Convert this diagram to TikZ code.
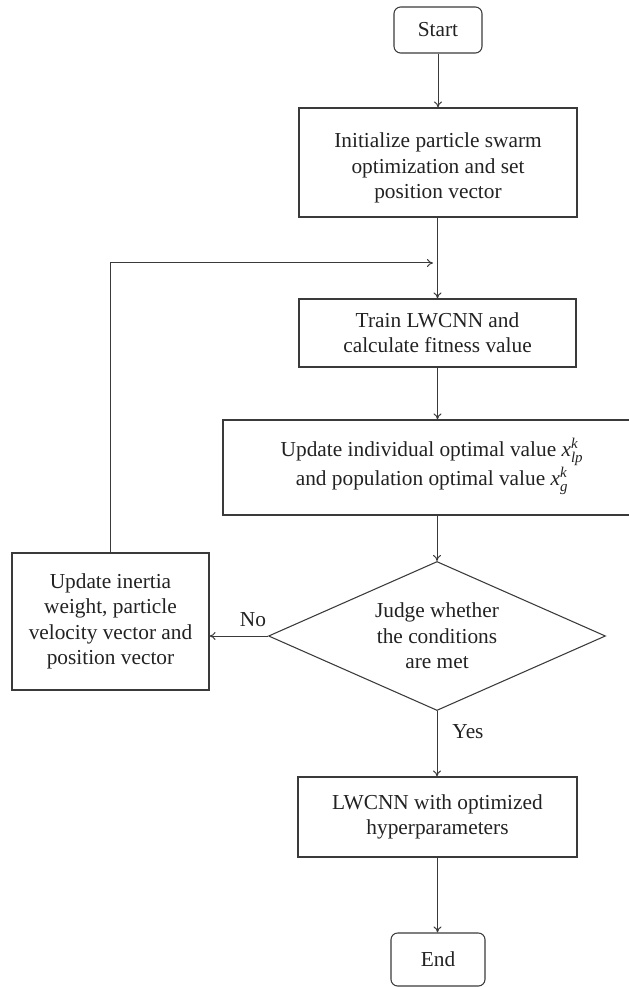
\documentclass[tikz,border=0pt]{standalone}
\usepackage{amsmath}
\usepackage{fontspec}
\setmainfont{Liberation Serif}
\usetikzlibrary{arrows.meta,shapes.geometric}
\definecolor{lineC}{HTML}{3A3A3A}
\definecolor{txtC}{HTML}{222222}
\newcommand{\vx}[2]{$\textit{x}^{\textit{#1}}_{\textit{#2}}$}
\tikzset{
  box/.style={draw=lineC, line width=0.8pt, rectangle, inner sep=0pt, align=center, text=txtC,
    font=\fontsize{16}{19}\selectfont},
  term/.style={box, rounded corners=5pt},
  decision/.style={box, shape=diamond, aspect=2.26},
  lbl/.style={text=txtC, font=\fontsize{16}{19}\selectfont, inner sep=0pt},
  conn/.style={draw=lineC, line width=0.75pt, -{To[length=4.5pt,width=6pt]}},
  plain/.style={draw=lineC, line width=0.75pt}
}
\begin{document}
\begin{tikzpicture}[x=0.75pt,y=-0.75pt]
\useasboundingbox (0,0) rectangle (628,987);
\node[term, minimum width=66pt, minimum height=34.5pt] (start) at (438,30) {Start};
\node[box, minimum width=208.5pt, minimum height=81.75pt] (init) at (438,162.5) {};
\node[lbl, align=center] (inittxt) at (438,168)
  {Initialize particle swarm\\optimization and set\\position vector};
\node[box, minimum width=207.75pt, minimum height=51pt] (train) at (437.5,333)
  {Train LWCNN and\\calculate fitness value};
\node[box, minimum width=322.5pt, minimum height=71.25pt] (upd) at (438,467.5) {};
\node[lbl, align=center, font=\fontsize{16}{19.5}\selectfont] (updtxt) at (432,466)
  {Update individual optimal value \vx{k}{lp}\\and population optimal value \vx{k}{g}};
\node[decision, minimum width=252.75pt, minimum height=111.75pt] (judge) at (437,636)
  {Judge whether\\the conditions\\are met};
\node[box, minimum width=147.75pt, minimum height=102.75pt] (inertia) at (110.5,621.5)
  {Update inertia\\weight, particle\\velocity vector and\\position vector};
\node[box, minimum width=209.25pt, minimum height=60pt] (lw) at (437.5,817)
  {LWCNN with optimized\\hyperparameters};
\node[term, minimum width=70.5pt, minimum height=39.75pt] (end) at (438,959.5) {End};
\node[lbl] (no) at (253,620) {No};
\node[lbl] (yes) at (468,732) {Yes};
\coordinate (loopc) at (110,263);
\coordinate (loopend) at (433,263);

\draw[conn] (start.south) -- (start.south |- init.north);
\draw[conn] (init.south -| train.north) -- (train.north);
\draw[conn] (train.south) -- (train.south |- upd.north);
\draw[conn] (upd.south -| judge.north) -- (judge.north);
\draw[conn] (judge.west) -- (judge.west -| inertia.east);
\draw[conn] (judge.south) -- (judge.south |- lw.north);
\draw[conn] (lw.south) -- (lw.south |- end.north);
\draw[plain] (inertia.north -| loopc) -- (loopc);
\draw[conn] (loopc) -- (loopend);
\end{tikzpicture}
\end{document}
